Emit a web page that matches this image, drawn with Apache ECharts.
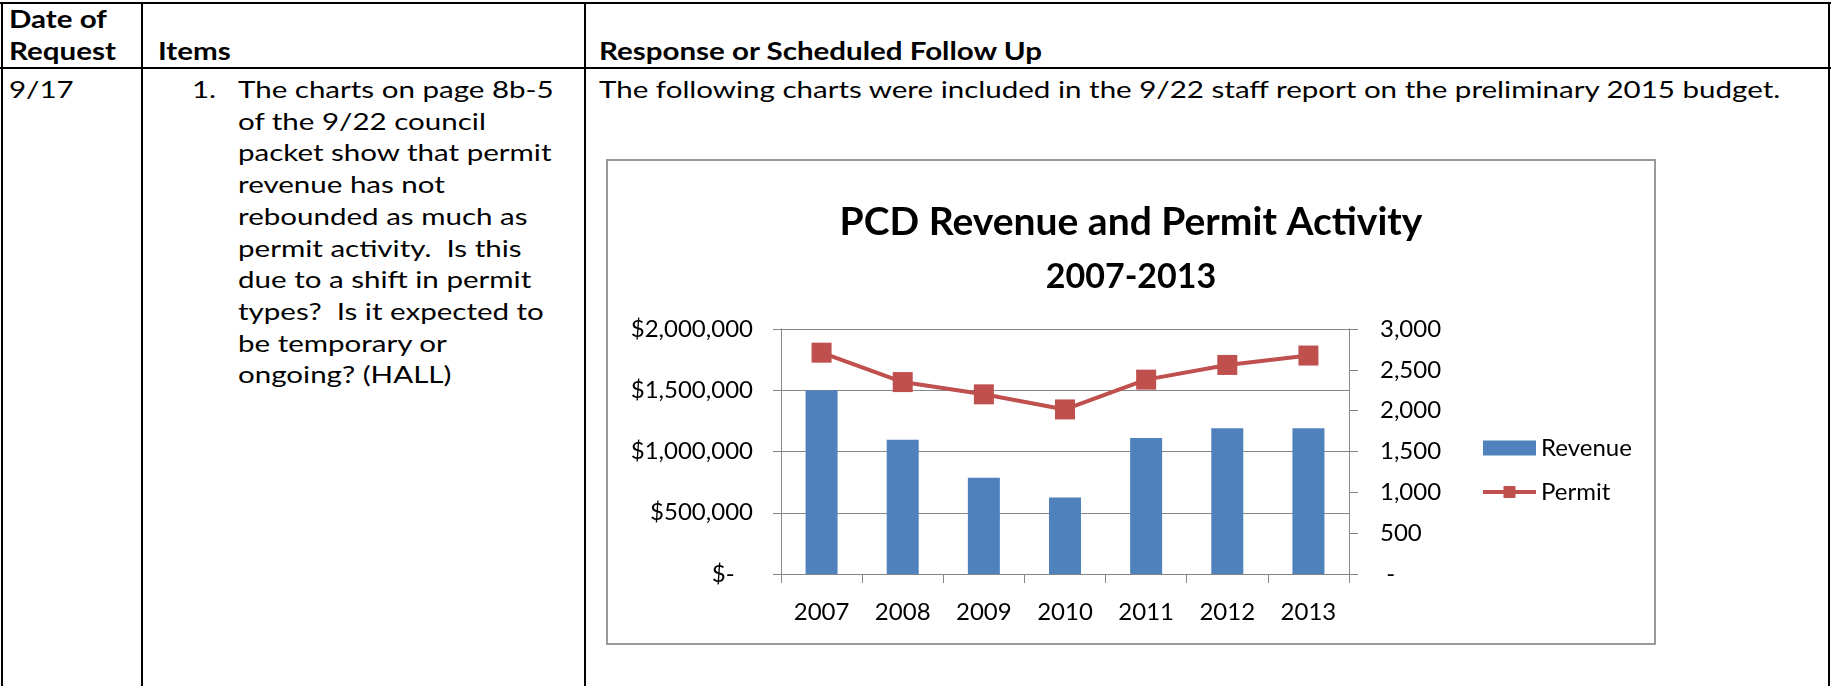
<!DOCTYPE html>
<html>
<head>
<meta charset="utf-8">
<script src="https://cdn.jsdelivr.net/npm/echarts@6/dist/echarts.min.js"></script>
<style>
  html, body { margin: 0; padding: 0; background: #fff; }
  body { width: 1831px; height: 686px; position: relative; overflow: hidden;
         font-family: Lato, "Open Sans", sans-serif; color: #000; }
  .rule { position: absolute; background: #000; }
  /* the scanned page is a little wide, so stretch the text to match */
  .txt { position: absolute; white-space: pre; font-size: 24px; line-height: 32px;
         transform: scaleX(1.23); transform-origin: 0 0; }
  .b { font-weight: bold; }
  #chart { position: absolute; left: 606px; top: 159px; width: 1050px; height: 486px;
           box-sizing: border-box; border: 2px solid #9a9a9a; }
</style>
</head>
<body>
  <!-- table lines -->
  <div class="rule" style="left:0;top:2px;width:1831px;height:2px"></div>
  <div class="rule" style="left:0;top:67px;width:1831px;height:2px"></div>
  <div class="rule" style="left:1px;top:2px;width:2px;height:684px"></div>
  <div class="rule" style="left:141px;top:2px;width:2px;height:684px"></div>
  <div class="rule" style="left:584px;top:2px;width:2px;height:684px"></div>
  <div class="rule" style="left:1828px;top:2px;width:2px;height:684px"></div>

  <!-- header row -->
  <div class="txt b" style="left:9px;top:3px">Date of
Request</div>
  <div class="txt b" style="left:158px;top:35px">Items</div>
  <div class="txt b" style="left:599px;top:35px">Response or Scheduled Follow Up</div>

  <!-- row 1 -->
  <div class="txt" style="left:9px;top:73px">9/17</div>
  <div class="txt" style="left:192px;top:73px">1.</div>
  <div class="txt" style="left:238px;top:73px;line-height:31.7px">The charts on page 8b-5
of the 9/22 council
packet show that permit
revenue has not
rebounded as much as
permit activity.  Is this
due to a shift in permit
types?  Is it expected to
be temporary or
ongoing? (HALL)</div>
  <div class="txt" style="left:599px;top:73px">The following charts were included in the 9/22 staff report on the preliminary 2015 budget.</div>

  <div id="chart"></div>

<script>
  // chart data
  var years = ["2007", "2008", "2009", "2010", "2011", "2012", "2013"];
  var revenue = [1500000, 1095000, 785000, 625000, 1110000, 1190000, 1190000];
  var permits = [2710, 2350, 2200, 2015, 2380, 2560, 2675];

  var gray = "#868686";
  var font = "Lato";

  var chart = echarts.init(document.getElementById("chart"));
  var option = {
    animation: false,
    title: {
      text: "{a|PCD Revenue and Permit Activity}\n{b|2007-2013}",
      left: "center",
      top: 29,
      textStyle: {
        rich: {
          a: { fontFamily: font, fontSize: 39, fontWeight: "bold", lineHeight: 55, color: "#000" },
          b: { fontFamily: font, fontSize: 34, fontWeight: "bold", lineHeight: 55, color: "#000" }
        }
      }
    },
    legend: {
      orient: "vertical",
      left: 868,
      top: 270,
      itemWidth: 53,
      itemHeight: 15,
      itemGap: 20,
      textStyle: { fontFamily: font, fontSize: 24, lineHeight: 24, color: "#000" },
      data: [
        { name: "Revenue", icon: "rect" },
        { name: "Permit", lineStyle: { width: 4 } }
      ]
    },
    grid: { left: 173, top: 168, width: 568, height: 245 },
    xAxis: {
      type: "category",
      data: years,
      axisLine: { lineStyle: { color: gray, width: 1 } },
      axisTick: { show: true, length: 9, lineStyle: { color: gray } },
      axisLabel: { fontFamily: font, fontSize: 24, color: "#000", margin: 26 }
    },
    yAxis: [
      {
        type: "value",
        position: "left",
        min: 0,
        max: 2000000,
        interval: 500000,
        axisLine: { show: true, lineStyle: { color: gray } },
        axisTick: { show: true, length: 8, lineStyle: { color: gray } },
        splitLine: { lineStyle: { color: gray, width: 1 } },
        axisLabel: {
          fontFamily: font, fontSize: 24, color: "#000", margin: 28,
          formatter: function (v) {
            return v === 0 ? "$-   " : "$" + v.toLocaleString("en-US");
          }
        }
      },
      {
        type: "value",
        position: "right",
        min: 0,
        max: 3000,
        interval: 500,
        axisLine: { show: true, lineStyle: { color: gray } },
        axisTick: { show: true, length: 9, lineStyle: { color: gray } },
        splitLine: { show: false },
        axisLabel: {
          fontFamily: font, fontSize: 24, color: "#000", margin: 31,
          formatter: function (v) {
            return v === 0 ? " -" : v.toLocaleString("en-US");
          }
        }
      }
    ],
    series: [
      {
        name: "Revenue",
        type: "bar",
        yAxisIndex: 0,
        barWidth: 32,
        itemStyle: { color: "#4F81BD" },
        data: revenue
      },
      {
        name: "Permit",
        type: "line",
        yAxisIndex: 1,
        symbol: "rect",
        symbolSize: 20,
        lineStyle: { color: "#C0504D", width: 4 },
        itemStyle: { color: "#C0504D" },
        data: permits
      }
    ]
  };
  chart.setOption(option);
</script>
</body>
</html>
